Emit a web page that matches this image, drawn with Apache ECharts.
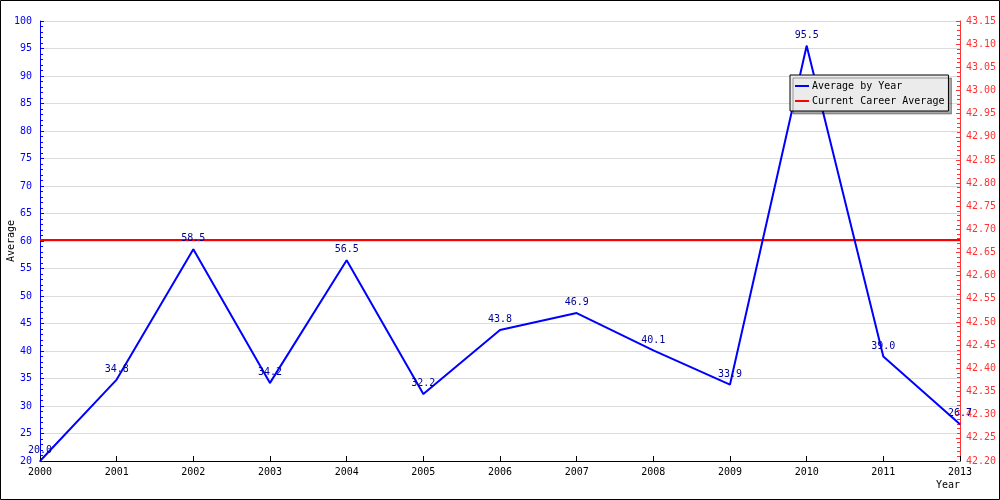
<!DOCTYPE html>
<html>
<head>
<meta charset="utf-8">
<script src="https://cdn.jsdelivr.net/npm/echarts@6/dist/echarts.min.js"></script>
<style>
html,body{margin:0;padding:0;background:#fff;}
#c{width:1000px;height:500px;}
</style>
</head>
<body>
<div id="c"></div>
<script>
const years = ['2000','2001','2002','2003','2004','2005','2006','2007','2008','2009','2010','2011','2013'];
const averageByYear = [20.0, 34.8, 58.5, 34.2, 56.5, 32.2, 43.8, 46.9, 40.1, 33.9, 95.5, 39.0, 26.7];
const careerAverage = 42.677;
const careerLine = years.map(() => careerAverage);

const FONT = 'DejaVu Sans Mono';
const chart = echarts.init(document.getElementById('c'), null, {renderer: 'canvas'});
chart.setOption({
  animation: false,
  backgroundColor: '#ffffff',
  textStyle: {fontFamily: FONT, fontSize: 10},
  grid: {left: 40, right: 40, top: 21, bottom: 39, containLabel: false, outerBoundsMode: 'none'},
  legend: {
    orient: 'vertical',
    left: 790, top: 75,
    padding: [6, 4, 5, 5],
    itemGap: 5,
    itemWidth: 14, itemHeight: 2,
    icon: 'rect',
    backgroundColor: '#ebebeb',
    borderColor: '#000', borderWidth: 1,
    shadowColor: 'rgba(0,0,0,0.35)', shadowBlur: 0.01, shadowOffsetX: 3, shadowOffsetY: 3,
    textStyle: {fontFamily: FONT, fontSize: 10, color: '#000', padding: [0,0,0,-2]},
    data: ['Average by Year', 'Current Career Average']
  },
  xAxis: {
    type: 'category',
    data: years,
    boundaryGap: false,
    axisLine: {lineStyle: {color: '#000', width: 1}},
    axisTick: {inside: true, length: 5, alignWithLabel: true, lineStyle: {color: '#000'}},
    axisLabel: {color: '#000', fontFamily: FONT, fontSize: 10, margin: 6, interval: 0},
    splitLine: {show: false}
  },
  yAxis: [{
    type: 'value', min: 20, max: 100, interval: 5,
    position: 'left',
    name: 'Average', nameLocation: 'middle', nameGap: 24, nameMoveOverlap: false,
    nameTextStyle: {color: '#000', fontFamily: FONT, fontSize: 10},
    axisLine: {show: true, lineStyle: {color: '#0000ff', width: 1}},
    axisTick: {show: true, inside: true, length: 4, lineStyle: {color: '#0000ff'}},
    minorTick: {show: true, splitNumber: 5, length: 3, lineStyle: {color: '#0000ff'}},
    axisLabel: {color: '#0000ff', fontFamily: FONT, fontSize: 10, margin: 8},
    splitLine: {show: true, lineStyle: {color: '#dcdcdc', width: 1}}
  }, {
    type: 'value', min: 42.2, max: 43.15, interval: 0.05,
    position: 'right',
    axisLine: {show: true, lineStyle: {color: '#ff3333', width: 1}},
    axisTick: {show: true, inside: true, length: 4, lineStyle: {color: '#ff3333'}},
    minorTick: {show: true, splitNumber: 5, length: 3, lineStyle: {color: '#ff3333'}},
    axisLabel: {color: '#ff3333', fontFamily: FONT, fontSize: 10, margin: 6,
      formatter: v => v.toFixed(2)},
    splitLine: {show: false}
  }],
  graphic: [
    {type: 'rect', shape: {x: 0.5, y: 0.5, width: 999, height: 499}, style: {fill: null, stroke: '#000', lineWidth: 1}, silent: true, z: 100},
    {type: 'text', left: 936, top: 480, style: {text: 'Year', fill: '#000', font: '10px "DejaVu Sans Mono"'}}
  ],
  series: [{
    name: 'Average by Year',
    type: 'line',
    data: averageByYear,
    yAxisIndex: 0,
    symbol: 'circle', symbolSize: 1,
    color: '#0000ff',
    lineStyle: {color: '#0000ff', width: 2},
    itemStyle: {color: '#0000ff'},
    label: {show: true, position: 'top', distance: 5, color: '#000099', fontFamily: FONT, fontSize: 10,
      formatter: p => p.value.toFixed(1)},
    z: 3
  }, {
    name: 'Current Career Average',
    type: 'line',
    data: careerLine,
    yAxisIndex: 1,
    symbol: 'none',
    color: '#ff0000',
    lineStyle: {color: '#ff0000', width: 2},
    itemStyle: {color: '#ff0000'},
    z: 2
  }]
});
</script>
</body>
</html>
